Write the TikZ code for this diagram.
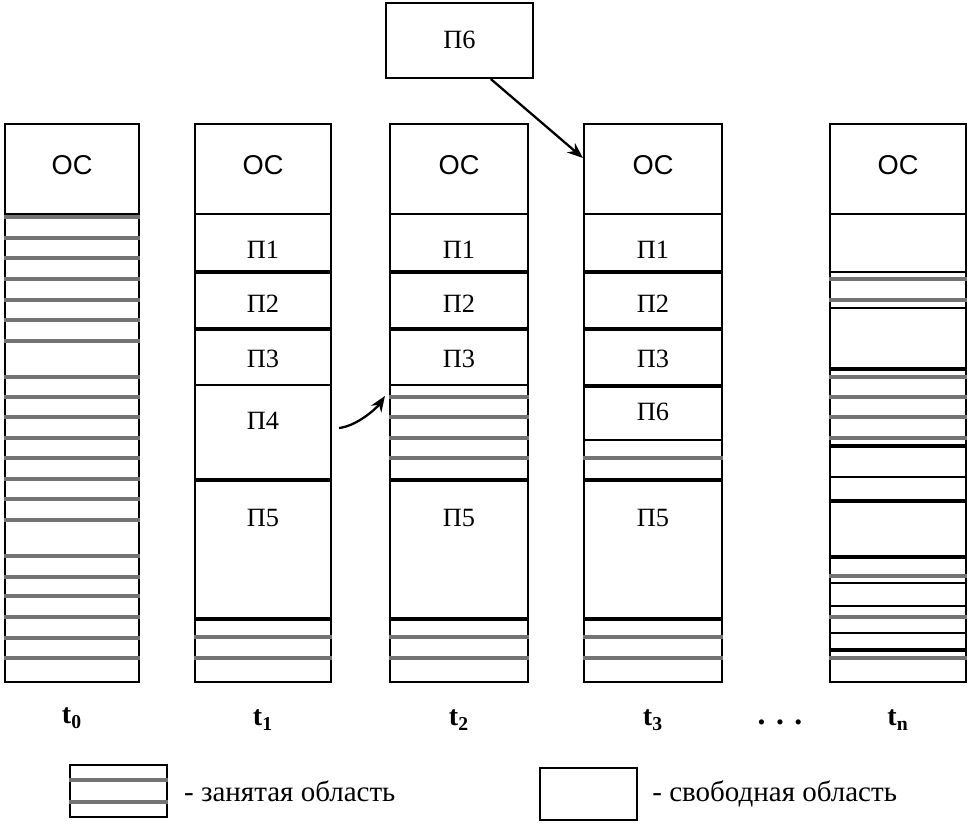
\documentclass[tikz,border=0pt]{standalone}
\usepackage{fontspec}
\setmainfont{Liberation Serif}
\setsansfont{Liberation Sans}
\usetikzlibrary{arrows.meta,positioning,fit,calc}

\begin{document}
\begin{tikzpicture}[
    x=0.02cm, y=-0.02cm,
    cell/.style={draw, line width=1.2pt, inner sep=0pt, fit={#1}},
    sep/.style={line width=2.2pt},
    hatch/.style={black!55, line width=1.9pt},
    oslab/.style={font=\sffamily\fontsize{15.5}{17}\selectfont},
    plab/.style={font=\fontsize{15}{17}\selectfont},
    tlab/.style={font=\bfseries\fontsize{16}{18}\selectfont},
    legtxt/.style={font=\fontsize{16.5}{18}\selectfont, anchor=west, inner sep=0pt},
    arr/.style={-{Stealth[length=9pt,width=7pt]}, line width=1.3pt}
  ]
  \useasboundingbox (0,0) rectangle (968,830);

  %% ---- process block on top ----
  \node[cell={(386,3) (533,78)}] (p6) {};
  \node[plab] (p6L) at (p6 |- 0,40) {П6};

  %% ---- t0 ----
  \node[cell={(5,124) (139,214)}] (os0) {};
  \node[cell={(5,214) (139,682)}] (h0)  {};
  \foreach \y in {217,238,258,279,300,320,341,377,397,417,438,458,479,499,520,556,577,596,617,638,658}
    \draw[hatch] (h0.west |- 0,\y) -- (h0.east |- 0,\y);

  %% ---- t1 ----
  \node[cell={(195,124) (331,214)}] (os1) {};
  \node[cell={(195,214) (331,271)}] (p1a) {};
  \node[cell={(195,271) (331,328)}] (p2a) {};
  \node[cell={(195,328) (331,385)}] (p3a) {};
  \node[cell={(195,385) (331,479)}] (p4a) {};
  \node[cell={(195,479) (331,618)}] (p5a) {};
  \node[cell={(195,618) (331,682)}] (h1)  {};
  \foreach \y in {637,658}
    \draw[hatch] (h1.west |- 0,\y) -- (h1.east |- 0,\y);

  %% ---- t2 ----
  \node[cell={(390,124) (528,214)}] (os2) {};
  \node[cell={(390,214) (528,271)}] (p1b) {};
  \node[cell={(390,271) (528,328)}] (p2b) {};
  \node[cell={(390,328) (528,385)}] (p3b) {};
  \node[cell={(390,385) (528,479)}] (h2)  {};
  \node[cell={(390,479) (528,618)}] (p5b) {};
  \node[cell={(390,618) (528,682)}] (h2b) {};
  \foreach \y in {397,417,438,458}
    \draw[hatch] (h2.west |- 0,\y) -- (h2.east |- 0,\y);
  \foreach \y in {637,658}
    \draw[hatch] (h2b.west |- 0,\y) -- (h2b.east |- 0,\y);

  %% ---- t3 ----
  \node[cell={(584,124) (722,214)}] (os3) {};
  \node[cell={(584,214) (722,271)}] (p1c) {};
  \node[cell={(584,271) (722,328)}] (p2c) {};
  \node[cell={(584,328) (722,385)}] (p3c) {};
  \node[cell={(584,385) (722,440)}] (p6c) {};
  \node[cell={(584,440) (722,479)}] (h3)  {};
  \node[cell={(584,479) (722,618)}] (p5c) {};
  \node[cell={(584,618) (722,682)}] (h3b) {};
  \draw[hatch] (h3.west |- 0,458) -- (h3.east |- 0,458);
  \foreach \y in {637,658}
    \draw[hatch] (h3b.west |- 0,\y) -- (h3b.east |- 0,\y);

  %% ---- tn ----
  \node[cell={(830,124) (966,214)}] (os4) {};
  \node[cell={(830,214) (966,272)}] (f4a) {};
  \node[cell={(830,272) (966,308)}] (h4a) {};
  \node[cell={(830,308) (966,368)}] (f4b) {};
  \node[cell={(830,368) (966,445)}] (h4b) {};
  \node[cell={(830,445) (966,477)}] (f4c) {};
  \node[cell={(830,477) (966,500)}] (h4c) {};
  \node[cell={(830,500) (966,556)}] (f4d) {};
  \node[cell={(830,556) (966,583)}] (h4d) {};
  \node[cell={(830,583) (966,606)}] (f4e) {};
  \node[cell={(830,606) (966,633)}] (h4e) {};
  \node[cell={(830,633) (966,649)}] (f4f) {};
  \node[cell={(830,649) (966,682)}] (h4f) {};
  \foreach \y in {279,300}
    \draw[hatch] (h4a.west |- 0,\y) -- (h4a.east |- 0,\y);
  \foreach \y in {377,397,417,438}
    \draw[hatch] (h4b.west |- 0,\y) -- (h4b.east |- 0,\y);
  \draw[hatch] (h4d.west |- 0,576) -- (h4d.east |- 0,576);
  \draw[hatch] (h4e.west |- 0,617) -- (h4e.east |- 0,617);
  \draw[hatch] (h4f.west |- 0,658) -- (h4f.east |- 0,658);

  %% ---- heavy borders ----
  \foreach \n in {p1a,p2a,p4a,p5a,p1b,p2b,h2,p5b,p1c,p2c,p3c,h3,p5c,f4b,h4b,h4c,f4d,f4f}
    \draw[sep] (\n.south west) -- (\n.south east);

  %% ---- labels in the cells ----
  \foreach \c in {0,...,4}
    \node[oslab] (os\c L) at (os\c |- 0,165) {ОС};
  \foreach \s in {a,b,c} {
    \node[plab] (p1\s L) at (p1\s |- 0,250) {П1};
    \node[plab] (p2\s L) at (p2\s |- 0,304) {П2};
    \node[plab] (p3\s L) at (p3\s |- 0,359) {П3};
    \node[plab] (p5\s L) at (p5\s |- 0,518) {П5};
  }
  \node[plab] (p4aL) at (p4a |- 0,421) {П4};
  \node[plab] (p6cL) at (p6c |- 0,412) {П6};

  %% ---- moves ----
  \draw[arr] ($(p6.south)!0.42!(p6.south east)$) -- ([yshift=0.22cm]os3.west);
  \draw[arr] ([xshift=0.14cm,yshift=0.08cm]p4a.east)
    .. controls +(18,-2) and +(-8,12) .. ([xshift=-0.08cm,yshift=-0.24cm]h2.north west);

  %% ---- time labels ----
  \node[tlab] (t0) at (os0.north |- 0,718) {t\textsubscript{0}};
  \node[tlab] (t1) at (os1.north |- 0,720) {t\textsubscript{1}};
  \node[tlab] (t2) at (os2.north |- 0,720) {t\textsubscript{2}};
  \node[tlab] (t3) at (os3.north |- 0,720) {t\textsubscript{3}};
  \node[tlab] (tn) at (os4.north |- 0,720) {t\textsubscript{n}};
  \node[font=\bfseries\fontsize{18}{20}\selectfont] (dots) at (780,722) {. . .};

  %% ---- legend ----
  \node[cell={(70,765) (167,817)}] (legocc) {};
  \foreach \y in {780,802}
    \draw[hatch] (legocc.west |- 0,\y) -- (legocc.east |- 0,\y);
  \node[legtxt, right=9pt of legocc] (occtxt) {- занятая область};
  \node[cell={(540,768) (637,820)}] (legfree) {};
  \node[legtxt, right=8pt of legfree] (freetxt) {- свободная область};
\end{tikzpicture}
\end{document}
